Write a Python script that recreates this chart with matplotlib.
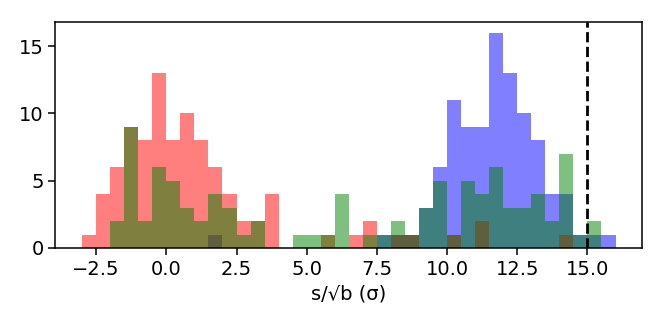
import matplotlib
matplotlib.use("Agg")
import matplotlib.pyplot as plt
import numpy as np

# common bin edges, 0.5 wide from -3 to 16
edges = np.arange(-3.0, 16.01, 0.5)
centers = 0.5 * (edges[:-1] + edges[1:])

counts_blue = [0, 0, 0, 0, 0, 0, 0, 0, 0, 1,
               0, 0, 0, 0, 0, 0, 0, 0, 0, 0,
               0, 1, 1, 1, 3, 6, 11, 9, 9, 16,
               13, 10, 8, 4, 4, 1, 1, 1]
counts_red = [1, 4, 6, 9, 8, 13, 8, 10, 8, 6,
              4, 2, 2, 4, 0, 0, 0, 1, 0, 1,
              2, 0, 1, 1, 0, 0, 1, 0, 2, 0,
              0, 0, 0, 0, 1, 0, 0, 0]
counts_green = [0, 0, 2, 9, 2, 6, 5, 3, 2, 4,
                3, 1, 2, 0, 0, 1, 1, 1, 4, 0,
                1, 1, 2, 1, 3, 5, 1, 5, 4, 6,
                3, 3, 4, 2, 7, 1, 2, 0]

threshold = 15.0

fig = plt.figure(figsize=(6.6, 3.28), dpi=100)
ax = fig.add_axes([0.084, 0.244, 0.889, 0.689])

ax.hist(centers, bins=edges, weights=counts_blue, color="b", alpha=0.5)
ax.hist(centers, bins=edges, weights=counts_red, color="r", alpha=0.5)
ax.hist(centers, bins=edges, weights=counts_green, color="g", alpha=0.5)
ax.axvline(threshold, color="k", linestyle="--", linewidth=2)

ax.set_yticks([0, 5, 10, 15])
ax.set_xlabel("s/√b (σ)", fontsize=14)
ax.tick_params(labelsize=14, length=5, width=1.1)
for sp in ax.spines.values():
    sp.set_linewidth(1.1)

fig.savefig("out.png", dpi=100)
